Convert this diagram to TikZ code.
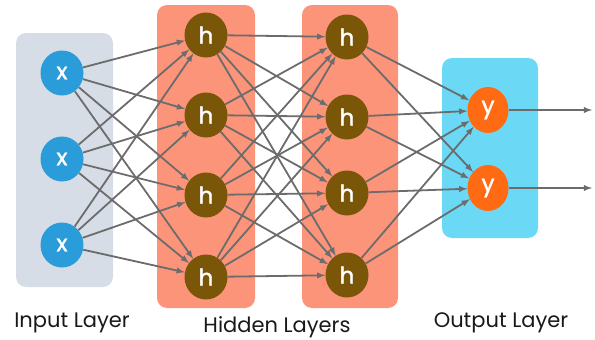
\documentclass[tikz,border=0pt]{standalone}
\usepackage{fontspec}
\setmainfont{Poppins}
\newfontfamily\neuronfont{Poppins}[FakeBold=1.5]
\usetikzlibrary{shapes.geometric}

\definecolor{inbox}{HTML}{D6DDE6}
\definecolor{hidbox}{HTML}{FC9479}
\definecolor{outbox}{HTML}{6BD9F6}
\definecolor{xblue}{HTML}{2A9CDA}
\definecolor{hbrown}{HTML}{7A5608}
\definecolor{yorange}{HTML}{FF6A12}
\definecolor{linkgray}{HTML}{6C6C6C}

\begin{document}
\begin{tikzpicture}[x=1pt,y=-1pt,
	layerbox/.style={ rounded corners=10pt },
	neuron/.style={ ellipse, inner sep=0pt, minimum width=43pt, minimum height=45pt, text=white, font=\neuronfont\fontsize{23}{23}\selectfont },
	link/.style={ -latex, draw=linkgray, line width=1.8pt },
	caption/.style={ anchor=base, text=black!90, font=\fontsize{21}{21}\selectfont },
]
\useasboundingbox (0,0) rectangle (595,340);

% layer backgrounds
\fill[inbox,layerbox] (16,33) rectangle (113,287);
\fill[hidbox,layerbox] (157,5) rectangle (255,308);
\fill[hidbox,layerbox] (302,5) rectangle (398,308);
\fill[outbox,layerbox] (442,58) rectangle (538,238);

% neurons
\foreach \i/\y in {1/73,2/159,3/245}
	\node at (62,\y) (x\i) [neuron,fill=xblue] {x};
\foreach \i/\y in {1/35,2/115,3/195,4/277}
	\node at (206,\y) (a\i) [neuron,fill=hbrown] {h};
\foreach \i/\y in {1/37,2/117,3/193,4/275}
	\node at (347,\y) (b\i) [neuron,fill=hbrown] {h};
\foreach \i/\y in {1/110,2/188} {
	\node at (488,\y) (y\i) [neuron,fill=yorange,minimum width=41pt,minimum height=46pt] {y};
	\coordinate (o\i) at (592,\y);
}

% connections
\foreach \s in {x1,x2,x3}
	\foreach \t in {a1,a2,a3,a4}
		\draw[link] (\s) -- (\t);
\foreach \s in {a1,a2,a3,a4}
	\foreach \t in {b1,b2,b3,b4}
		\draw[link] (\s) -- (\t);
\foreach \s in {b1,b2,b3,b4}
	\foreach \t in {y1,y2}
		\draw[link] (\s) -- (\t);
\foreach \i in {1,2}
	\draw[link] (y\i) -- (o\i);

% captions
\node at (72,327) (inlab) [caption] {Input Layer};
\node at (277,332) (hidlab) [caption] {Hidden Layers};
\node at (501,327) (outlab) [caption] {Output Layer};

\end{tikzpicture}
\end{document}
